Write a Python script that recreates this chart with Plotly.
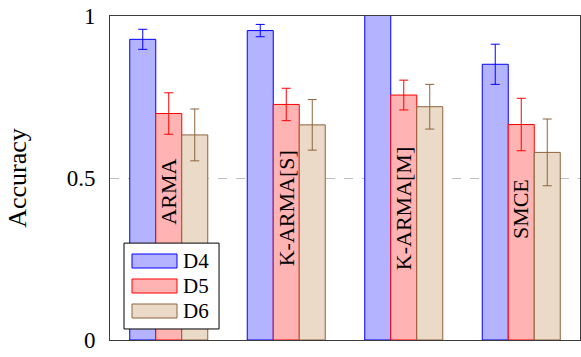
import plotly.graph_objects as go

categories = ["ARMA", "K-ARMA[S]", "K-ARMA[M]", "SMCE"]
series_names = ["D4", "D5", "D6"]
d4_values = [0.928, 0.955, 1.05, 0.851]
d4_errors = [0.031, 0.019, 0.02, 0.062]
d5_values = [0.699, 0.727, 0.756, 0.665]
d5_errors = [0.064, 0.050, 0.046, 0.081]
d6_values = [0.633, 0.664, 0.720, 0.579]
d6_errors = [0.080, 0.078, 0.069, 0.103]
label_bottom_y = [0.349, 0.222, 0.21, 0.306]
y_ticks = [0, 0.5, 1]
y_tick_labels = ["0", "0.5", "1"]

FONT = "Liberation Serif"
fills = ["rgb(179,179,255)", "rgb(255,179,179)", "rgb(235,218,199)"]
edges = ["rgb(0,0,255)", "rgb(255,0,0)", "rgb(140,100,60)"]

fig = go.Figure()
for name, vals, errs, fc, ec in zip(series_names, [d4_values, d5_values, d6_values],
                                    [d4_errors, d5_errors, d6_errors], fills, edges):
    fig.add_trace(go.Bar(
        x=categories, y=vals, name=name,
        marker=dict(color=fc, line=dict(color=ec, width=1)),
        error_y=dict(type="data", array=errs, color=ec, thickness=1, width=4.5),
        showlegend=False, hoverinfo="skip",
    ))

for cat, ly in zip(categories, label_bottom_y):
    fig.add_annotation(x=cat, y=ly, text=cat, textangle=-90, showarrow=False,
                       xanchor="center", yanchor="bottom",
                       font=dict(family=FONT, size=22, color="black"))

# legend drawn manually
L, T, R, B = 0.0298, 0.299, 0.232, 0.034
fig.add_shape(type="rect", xref="paper", yref="paper", x0=L, x1=R, y0=B, y1=T,
              line=dict(color="black", width=1), fillcolor="white", layer="above")
for i, (name, fc, ec) in enumerate(zip(series_names, fills, edges)):
    yc = (340 - (261 + 25 * i)) / 324
    fig.add_shape(type="rect", xref="paper", yref="paper",
                  x0=(132 - 110) / 470, x1=(177 - 110) / 470,
                  y0=yc - 7 / 324, y1=yc + 7 / 324,
                  line=dict(color=ec, width=1), fillcolor=fc, layer="above")
    fig.add_annotation(xref="paper", yref="paper", x=(181 - 110) / 470, y=yc,
                       text=name, showarrow=False, xanchor="left", yanchor="middle",
                       font=dict(family=FONT, size=21, color="black"))

fig.update_layout(
    width=581, height=357,
    margin=dict(l=110, r=1, t=16, b=17),
    plot_bgcolor="white", paper_bgcolor="white",
    barmode="group", bargap=0.336, bargroupgap=0,
    font=dict(family=FONT, size=22, color="black"),
    xaxis=dict(range=[-0.5, 3.5], showticklabels=False, ticks="", showgrid=False,
               showline=True, mirror=True, linecolor="rgb(60,60,60)", linewidth=1,
               zeroline=False, fixedrange=True),
    yaxis=dict(range=[0, 1], tickvals=y_ticks, ticktext=y_tick_labels,
               ticks="outside", ticklen=9, tickcolor="rgba(0,0,0,0)",
               showgrid=True, gridcolor="rgb(190,190,190)", griddash="dash", gridwidth=1,
               showline=True, mirror=True, linecolor="rgb(60,60,60)", linewidth=1,
               zeroline=False, fixedrange=True,
               tickfont=dict(family=FONT, size=23),
               title=dict(text="Accuracy", standoff=32, font=dict(family=FONT, size=26))),
)

fig.write_html("out.html", config={"displayModeBar": False},
               post_script="document.body.style.margin='0';document.body.style.overflow='hidden';")
